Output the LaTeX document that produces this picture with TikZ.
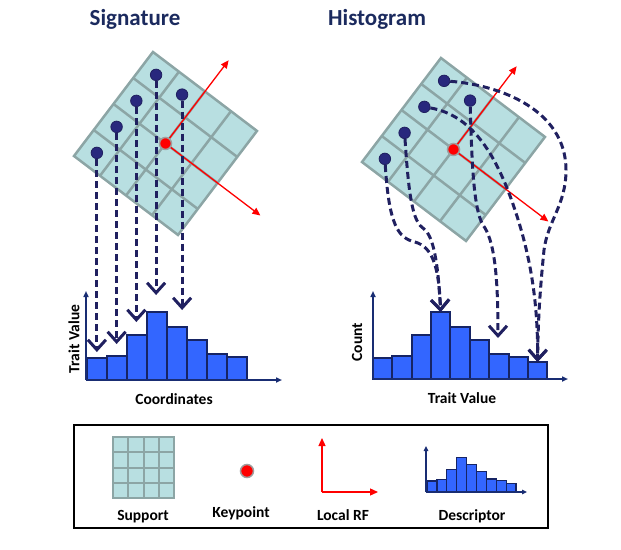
\documentclass[tikz,border=0pt]{standalone}
\usepackage{fontspec}
\setmainfont{Carlito}
\usetikzlibrary{arrows.meta}

\definecolor{titlenavy}{RGB}{27,42,94}
\definecolor{flownavy}{RGB}{32,32,96}
\definecolor{dotnavy}{RGB}{40,40,125}
\definecolor{suppfill}{RGB}{184,223,225}
\definecolor{suppline}{RGB}{140,165,165}
\definecolor{barfill}{RGB}{51,102,255}
\definecolor{baredge}{RGB}{22,36,100}
\definecolor{axisnavy}{RGB}{25,45,115}

\begin{document}
\begin{tikzpicture}[%
    x=1pt, y=-1pt,        % work in picture pixels, y downwards
    title/.style={%
      font=\fontsize{23}{26}\selectfont\bfseries, % big bold title
      text=titlenavy,     % dark blue
      anchor=base
    },
    legendtext/.style={%
      font=\fontsize{15.5}{18}\selectfont\bfseries, % bold writing
      anchor=base
    },
    support/.style={%
      fill=suppfill,      % light teal cells
      draw=suppline,      % grey edges
      line width=2.5pt
    },
    cell/.style={%
      draw=suppline,      % inner grid lines
      line width=2.5pt
    },
    dot/.style={%
      circle,             % round point
      fill=dotnavy,       % filled in navy
      draw=flownavy,
      line width=0.8pt,
      minimum size=11.5pt,
      inner sep=0pt
    },
    keypoint/.style={%
      circle,             % round point
      fill=red,           % red inside
      draw=gray!75,       % grey ring
      line width=1.5pt,
      minimum size=12pt,
      inner sep=0pt
    },
    frame/.style={%
      red,                % local reference frame
      line width=1.3pt,
      -{Triangle[length=8pt,width=7pt]}
    },
    flow/.style={%
      draw=flownavy,      % navy dashed arrows
      line width=3pt,
      dash pattern=on 7pt off 4pt,
      -{Straight Barb[length=10pt,width=18pt]}
    },
    bar/.style={%
      rectangle,          % histogram bin
      fill=barfill,
      draw=baredge,
      line width=2pt,
      inner sep=0pt,
      outer sep=0pt,
      anchor=south west,
      minimum width=20pt
    },
    axis/.style={%
      draw=axisnavy,      % histogram axes
      line width=1.5pt,
      -{Triangle[length=6pt,width=5pt]}
    }
]
    \useasboundingbox (0,0) rectangle (621,549);

    % titles
    \node at (135,25) [title] (sigtitle)  {Signature};
    \node at (377,25) [title] (histtitle) {Histogram};

    % signature: support, points and frame
    \begin{scope}[shift={(74,156)}, rotate=52.8, scale=32.65]
      \draw[support] (0,0) rectangle (4,4);
      \foreach \k in {1,2,3} {
        \draw[cell] (\k,0) -- (\k,4);
        \draw[cell] (0,\k) -- (4,\k);
      }
      \node at (0.5,0.5) [dot] (ld1) {};
      \node at (1.5,0.5) [dot] (ld2) {};
      \node at (2.5,0.5) [dot] (ld3) {};
      \node at (3.5,0.5) [dot] (ld4) {};
      \node at (3.5,1.5) [dot] (ld5) {};
      \node at (2,2)     [keypoint] (lkp) {};
      \coordinate (lu) at (5.2,2);
      \coordinate (lv) at (2,5.65);
    \end{scope}
    \draw[frame] (lkp) -- (lu);
    \draw[frame] (lkp) -- (lv);

    % signature: histogram
    \foreach \h [count=\i] in {21.7,24.3,45,67.7,53.3,40,25.7,22.7}
      \node at ({87+(\i-1)*20},380) [bar, minimum height=\h pt] (lb\i) {};
    \coordinate (lo) at (86,380);
    \draw[axis] (lo) -- ++(0,-89);
    \draw[axis] (lo) -- ++(196,0);
    \node at (74,339) [legendtext, anchor=center, rotate=90] (lylab) {Trait Value};
    \node at (174,404) [legendtext] (lxlab) {Coordinates};

    % signature: connections
    \foreach \i/\y in {1/352, 2/344, 3/322, 4/295, 5/310} {
      \coordinate (lt\i) at (ld\i |- 0,\y);
      \draw[flow] (ld\i) -- (lt\i);
    }

    % histogram: support, points and frame
    \begin{scope}[shift={(362,162)}, rotate=52.8, scale=32.65]
      \draw[support] (0,0) rectangle (4,4);
      \foreach \k in {1,2,3} {
        \draw[cell] (\k,0) -- (\k,4);
        \draw[cell] (0,\k) -- (4,\k);
      }
      \node at (0.5,0.5) [dot] (rd1) {};
      \node at (1.5,0.5) [dot] (rd2) {};
      \node at (2.5,0.5) [dot] (rd3) {};
      \node at (3.5,0.5) [dot] (rd4) {};
      \node at (3.5,1.5) [dot] (rd5) {};
      \node at (2,2)     [keypoint] (rkp) {};
      \coordinate (ru) at (5.2,2);
      \coordinate (rv) at (2,5.65);
    \end{scope}
    \draw[frame] (rkp) -- (ru);
    \draw[frame] (rkp) -- (rv);

    % histogram: histogram
    \foreach \h [count=\i] in {21,23,44,67,52,39,25,22,17}
      \node at ({372.7+(\i-1)*19.4},379) [bar, minimum width=19.4pt, minimum height=\h pt] (rb\i) {};
    \coordinate (ro) at (373,379);
    \draw[axis] (ro) -- ++(0,-88);
    \draw[axis] (ro) -- ++(195,0);
    \node at (357,342) [legendtext, anchor=center, rotate=90] (rylab) {Count};
    \node at (462,403) [legendtext] (rxlab) {Trait Value};

    % histogram: connections
    \coordinate (rt) at (498,338);
    \draw[flow] (rd1) .. controls (389,225) and (398,238) .. (415,242)
                      .. controls (432,247) and (439,265) .. (rb4.north);
    \draw[flow] (rd2) .. controls (409,200) and (413,222) .. (424,229)
                      .. controls (433,236) and (438,260) .. (rb4.north);
    \draw[flow] (rd3) .. controls (470,115) and (495,150) .. (515,210)
                      .. controls (530,255) and (538,300) .. (rb9.north);
    \draw[flow] (rd4) .. controls (500,85) and (566,110) .. (566,170)
                      .. controls (566,205) and (548,220) .. (544,250)
                      .. controls (540,290) and (538,320) .. (rb9.north);
    \draw[flow] (rd5) .. controls (472,170) and (474,215) .. (485,228)
                      .. controls (495,245) and (498,280) .. (rt);

    % legend
    \draw[line width=2pt] (74,425) rectangle (548,528);

    \begin{scope}[shift={(113,437)}, scale=15.25]
      \draw[support, line width=2pt] (0,0) rectangle (4,4);
      \foreach \k in {1,2,3} {
        \draw[cell, line width=2pt] (\k,0) -- (\k,4);
        \draw[cell, line width=2pt] (0,\k) -- (4,\k);
      }
    \end{scope}
    \node at (143,520) [legendtext] (suppkey) {Support};

    \node at (247,471) [keypoint, minimum size=13pt] (kpkey) {};
    \node at (241,517) [legendtext] (kptext) {Keypoint};

    \coordinate (rfo) at (322,492);
    \coordinate (rfx) at (378,492);
    \coordinate (rfy) at (322,438);
    \draw[frame] (rfo) -- (rfy);
    \draw[frame] (rfo) -- (rfx);
    \node at (343,520) [legendtext] (rftext) {Local RF};

    \foreach \h [count=\i] in {11,12.7,22.7,34.7,27.7,20.3,13,11.3,8.7}
      \node at ({427+(\i-1)*9.9},492) [bar, line width=1.3pt, minimum width=9.9pt, minimum height=\h pt] (db\i) {};
    \coordinate (dso) at (426,492);
    \draw[axis, line width=1.3pt, -{Triangle[length=5pt,width=4.5pt]}] (dso) -- ++(0,-46);
    \draw[axis, line width=1.3pt, -{Triangle[length=5pt,width=4.5pt]}] (dso) -- ++(101,0);
    \node at (472,520) [legendtext] (desctext) {Descriptor};

\end{tikzpicture}
\end{document}
